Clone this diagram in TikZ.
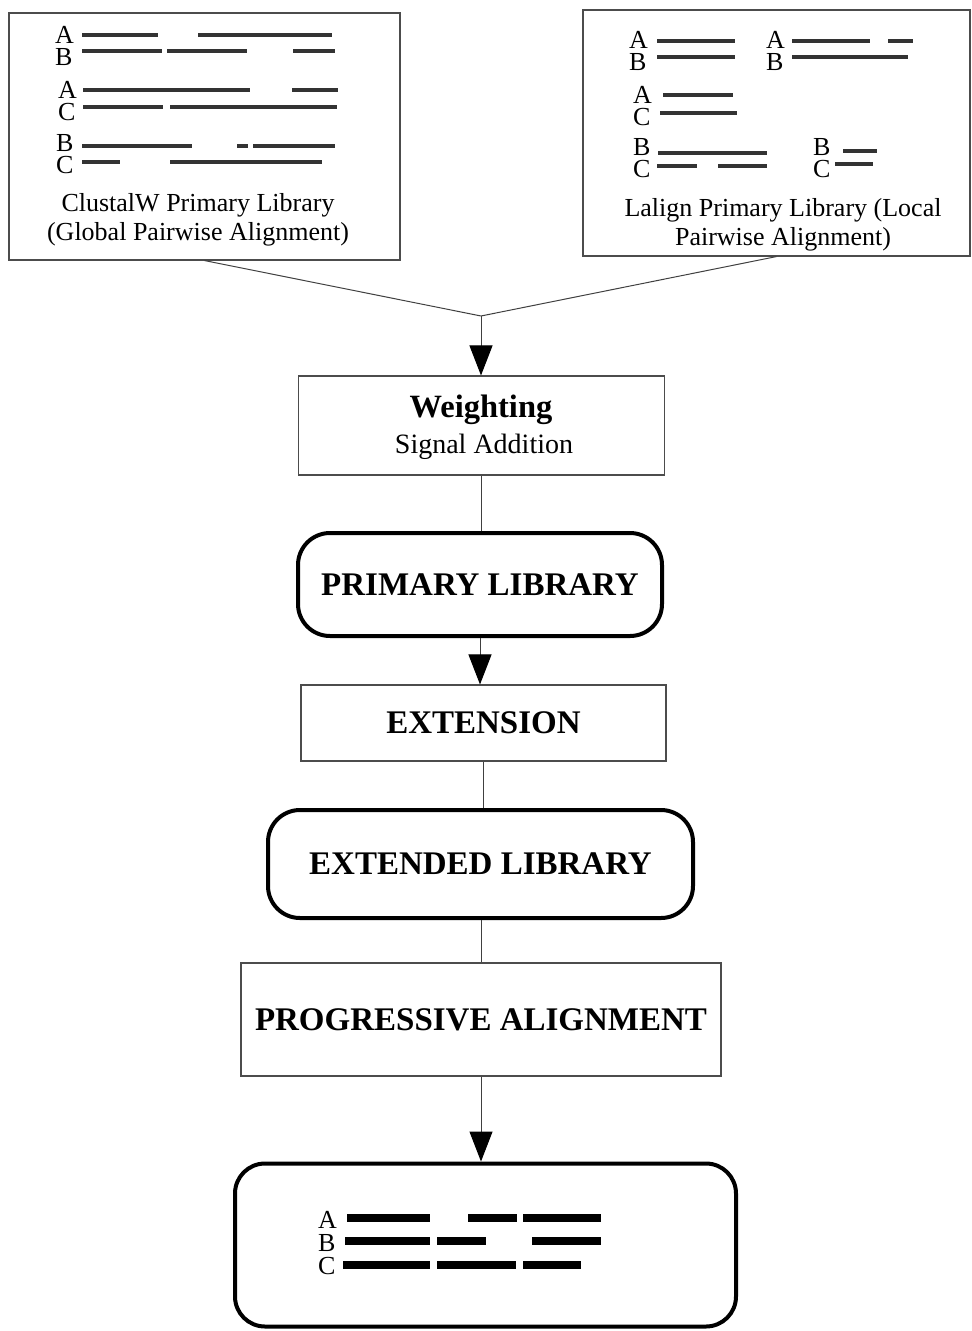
\documentclass[tikz,border=0pt]{standalone}
\usepackage{fontspec}
\setmainfont{Liberation Serif}
\usetikzlibrary{arrows.meta}
\begin{document}
\begin{tikzpicture}[x=1pt,y=-1pt,
  thinbox/.style={draw=black!70,line width=1.1pt,inner sep=0pt},
  thickbox/.style={draw=black,line width=4pt,rounded corners=32pt,inner sep=0pt},
  conn/.style={draw=black!75,line width=1pt},
  arr/.style={conn,-{Triangle[length=30pt,width=23pt,color=black]}},
  bar/.style={line width=4pt,draw=black!80},
  fbar/.style={line width=7.5pt,draw=black},
  pair/.style={inner sep=0pt,anchor=west,align=left,font=\fontsize{26}{22}\selectfont},
  triple/.style={inner sep=0pt,anchor=west,align=left,font=\fontsize{26}{23}\selectfont},
  captext/.style={inner sep=0pt,align=center,font=\fontsize{26}{29}\selectfont},
  boldtext/.style={inner sep=0pt,font=\fontsize{33}{34}\selectfont\bfseries}]
\useasboundingbox (0,0) rectangle (972,1331);

% top boxes
\node[thinbox,minimum width=391pt,minimum height=247pt] (clw) at (204.5,136.5) {};
\node[thinbox,minimum width=387pt,minimum height=246pt] (lal) at (776.5,133) {};

% left box content
\node[pair] (lab) at (55,46) {A\\B};
\node[pair] (lac) at (58,101) {A\\C};
\node[pair] (lbc) at (56,154) {B\\C};
\draw[bar] (82,35)--(158,35) (198,35)--(332,35);
\draw[bar] (82,51)--(162,51) (167,51)--(247,51) (293,51)--(335,51);
\draw[bar] (83,90)--(250,90) (292,90)--(338,90);
\draw[bar] (83,107)--(163,107) (170,107)--(337,107);
\draw[bar] (82,146)--(192,146) (237,146)--(248,146) (253,146)--(335,146);
\draw[bar] (82,162)--(120,162) (170,162)--(322,162);
\node[captext] (clwcap) at (198,220) {ClustalW Primary Library\\(Global Pairwise Alignment)};

% right box content
\node[pair] (rab1) at (629,51) {A\\B};
\draw[bar] (657,41)--(735,41);
\draw[bar] (657,57)--(735,57);
\node[pair] (rab2) at (766,51) {A\\B};
\draw[bar] (792,41)--(870,41) (888,41)--(913,41);
\draw[bar] (792,57)--(908,57);
\node[pair] (rac) at (633,106) {A\\C};
\draw[bar] (663,95)--(733,95);
\draw[bar] (660,113)--(737,113);
\node[pair] (rbc1) at (633,158) {B\\C};
\draw[bar] (658,153)--(767,153);
\draw[bar] (657,166)--(697,166) (718,166)--(767,166);
\node[pair] (rbc2) at (813,158) {B\\C};
\draw[bar] (843,151)--(877,151);
\draw[bar] (835,164)--(873,164);
\node[captext] (lalcap) at (783,225) {Lalign Primary Library (Local\\Pairwise Alignment)};

% flow boxes
\node[thinbox,minimum width=366pt,minimum height=99pt] (wgt) at (481.5,425.5) {};
\node[inner sep=0pt,font=\fontsize{32.5}{32}\selectfont\bfseries] (wgtt) at (481,410) {Weighting};
\node[inner sep=0pt,font=\fontsize{28}{28}\selectfont] (wgts) at (484,447) {Signal Addition};
\node[thickbox,minimum width=364pt,minimum height=103pt,boldtext] (prim) at (480,584.5) {PRIMARY LIBRARY};
\node[thinbox,minimum width=365pt,minimum height=76pt,boldtext] (ext) at (483.5,723) {EXTENSION};
\node[thickbox,minimum width=425pt,minimum height=108pt,boldtext] (extl) at (480.5,864) {EXTENDED LIBRARY};
\node[thinbox,minimum width=480pt,minimum height=113pt,boldtext] (prog) at (481,1019.5) {PROGRESSIVE ALIGNMENT};
\node[thickbox,rounded corners=30pt,minimum width=501pt,minimum height=163pt] (res) at (485.5,1245) {};

% result content
\node[triple] (fabc) at (318,1243) {A\\B\\C};
\draw[fbar] (347,1218)--(430,1218) (468,1218)--(517,1218) (523,1218)--(601,1218);
\draw[fbar] (345,1241)--(430,1241) (437,1241)--(486,1241) (532,1241)--(601,1241);
\draw[fbar] (343,1265)--(430,1265) (437,1265)--(516,1265) (523,1265)--(581,1265);

% connectors
\coordinate (merge) at (481,316);
\draw[conn] (clw.south) -- (merge);
\draw[conn] (lal.south) -- (merge);
\draw[arr] (merge) -- (merge |- wgt.north);
\draw[conn] (wgt.south) -- (wgt.south |- prim.north);
\draw[arr] (prim.south) -- (prim.south |- ext.north);
\draw[conn] (ext.south) -- (ext.south |- extl.north);
\draw[conn] (prog.north |- extl.south) -- (prog.north);
\draw[arr] (prog.south) -- (prog.south |- res.north);
\end{tikzpicture}
\end{document}
